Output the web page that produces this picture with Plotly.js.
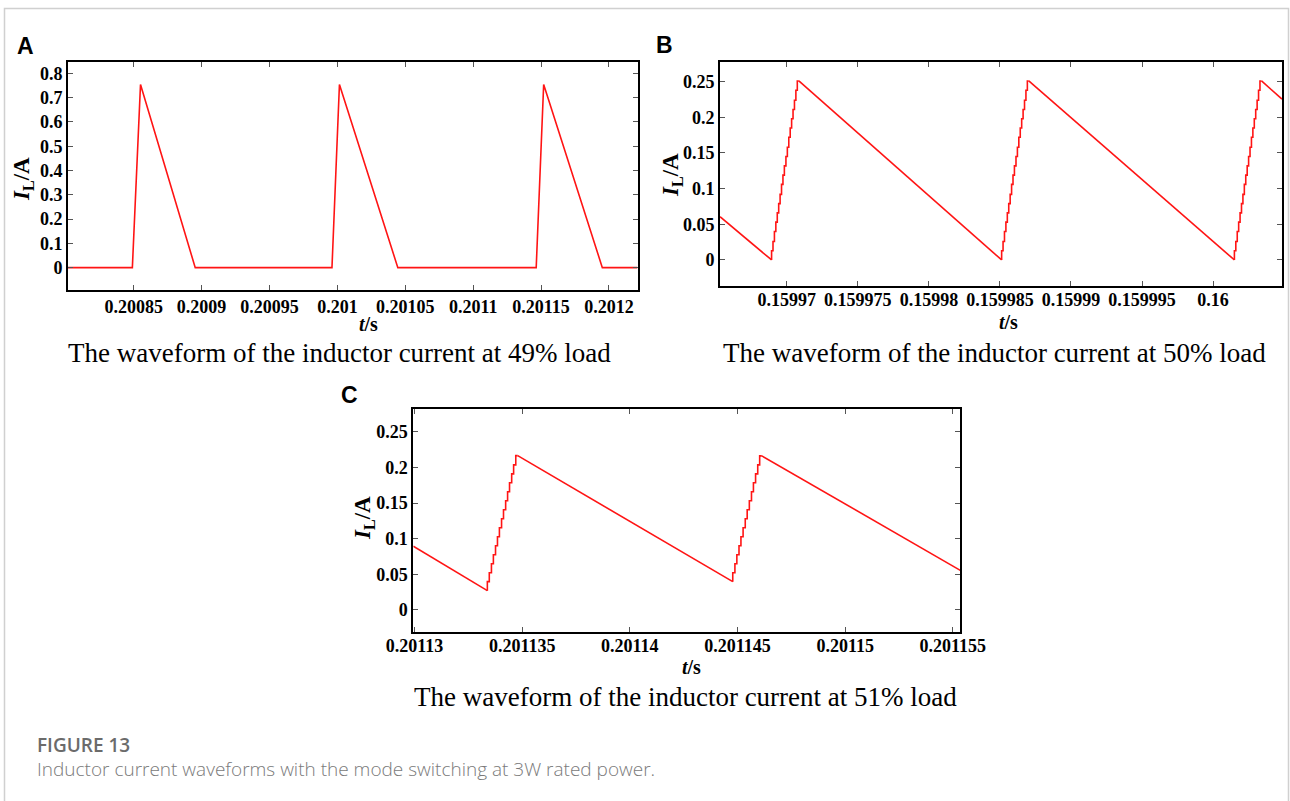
<!DOCTYPE html>
<html>
<head>
<meta charset="utf-8">
<script src="https://cdn.plot.ly/plotly-3.0.1.min.js"></script>
<style>
  html, body { margin: 0; padding: 0; background: #ffffff; }
  #chart { width: 1290px; height: 801px; }
</style>
</head>
<body>
<div id="chart"></div>
<script>
// ---------- Panel A: 49% load (DCM triangular pulses) ----------
const aTime = [0.2008016, 0.200849, 0.200855, 0.2008953, 0.200996, 0.2010015, 0.2010445, 0.2011464, 0.2011519, 0.2011951, 0.201221];
const aCurrent = [0, 0, 0.754, 0, 0, 0.754, 0, 0, 0.754, 0, 0];
const aXTicks = [0.20085, 0.2009, 0.20095, 0.201, 0.20105, 0.2011, 0.20115, 0.2012];
const aXTickText = ["0.20085", "0.2009", "0.20095", "0.201", "0.20105", "0.2011", "0.20115", "0.2012"];
const aYTicks = [0, 0.1, 0.2, 0.3, 0.4, 0.5, 0.6, 0.7, 0.8];
const aYTickText = ["0", "0.1", "0.2", "0.3", "0.4", "0.5", "0.6", "0.7", "0.8"];

// ---------- Panel B: 50% load (BCM sawtooth with stepped rise) ----------
const bFallTime = [0.1599653, 0.15996893, null, 0.15997085, 0.15998512, null, 0.15998703, 0.1600015, null, 0.16000341, 0.16000485];
const bFallCurrent = [0.0607, 0, null, 0.251, 0, null, 0.251, 0, null, 0.251, 0.2256];
const bRise1Time = [0.15996893, 0.15996903, 0.15996913, 0.15996923, 0.15996933, 0.15996943, 0.15996953, 0.15996963, 0.15996973, 0.15996983, 0.15996994, 0.15997004, 0.15997014, 0.15997024, 0.15997034, 0.15997044, 0.15997054, 0.15997064, 0.15997074, 0.15997085];
const bRise2Time = [0.15998512, 0.15998522, 0.15998532, 0.15998542, 0.15998552, 0.15998562, 0.15998572, 0.15998582, 0.15998592, 0.15998602, 0.15998613, 0.15998623, 0.15998633, 0.15998643, 0.15998653, 0.15998663, 0.15998673, 0.15998683, 0.15998693, 0.15998703];
const bRise3Time = [0.1600015, 0.1600016, 0.1600017, 0.1600018, 0.1600019, 0.160002, 0.1600021, 0.1600022, 0.1600023, 0.1600024, 0.1600025, 0.1600026, 0.1600027, 0.1600028, 0.1600029, 0.160003, 0.1600031, 0.1600032, 0.1600033, 0.16000341];
const bRiseCurrent = [0, 0.013, 0.026, 0.04, 0.053, 0.066, 0.079, 0.092, 0.106, 0.119, 0.132, 0.145, 0.158, 0.172, 0.185, 0.198, 0.211, 0.224, 0.238, 0.251];
const bXTicks = [0.15997, 0.159975, 0.15998, 0.159985, 0.15999, 0.159995, 0.16];
const bXTickText = ["0.15997", "0.159975", "0.15998", "0.159985", "0.15999", "0.159995", "0.16"];
const bYTicks = [0, 0.05, 0.1, 0.15, 0.2, 0.25];
const bYTickText = ["0", "0.05", "0.1", "0.15", "0.2", "0.25"];

// ---------- Panel C: 51% load (CCM sawtooth with stepped rise) ----------
const cFallTime = [0.20112994, 0.20113338, null, 0.20113479, 0.20114478, null, 0.20114613, 0.20115535];
const cFallCurrent = [0.0893, 0.0271, null, 0.2164, 0.0397, null, 0.2161, 0.0556];
const cRise1Time = [0.20113338, 0.20113347, 0.20113357, 0.20113366, 0.20113376, 0.20113385, 0.20113394, 0.20113404, 0.20113413, 0.20113423, 0.20113432, 0.20113441, 0.20113451, 0.2011346, 0.2011347, 0.20113479];
const cRise1Current = [0.0271, 0.0397, 0.0523, 0.0649, 0.0775, 0.0901, 0.1027, 0.1153, 0.1279, 0.1405, 0.1531, 0.1657, 0.1783, 0.1909, 0.2035, 0.2164];
const cRise2Time = [0.20114478, 0.20114488, 0.20114497, 0.20114507, 0.20114516, 0.20114526, 0.20114536, 0.20114545, 0.20114555, 0.20114565, 0.20114574, 0.20114584, 0.20114594, 0.20114603, 0.20114613];
const cRise2Current = [0.0397, 0.0523, 0.0649, 0.0775, 0.0901, 0.1027, 0.1153, 0.1279, 0.1405, 0.1531, 0.1657, 0.1783, 0.1909, 0.2035, 0.2161];
const cXTicks = [0.20113, 0.201135, 0.20114, 0.201145, 0.20115, 0.201155];
const cXTickText = ["0.20113", "0.201135", "0.20114", "0.201145", "0.20115", "0.201155"];
const cYTicks = [0, 0.05, 0.1, 0.15, 0.2, 0.25];
const cYTickText = ["0", "0.05", "0.1", "0.15", "0.2", "0.25"];

// ---------- Texts ----------
const panelLetters = ["A", "B", "C"];
const panelCaptions = [
  "The waveform of the inductor current at 49% load",
  "The waveform of the inductor current at 50% load",
  "The waveform of the inductor current at 51% load"
];
const figureLabel = "FIGURE 13";
const figureDescription = "Inductor current waveforms with the mode switching at 3W rated power.";
const yTitle = "<b><i>I</i><sub>L</sub>/A</b>";
const xTitle = "<b><i>t</i>/s</b>";

// ---------- Styling ----------
const W = 1290, H = 801;
const RED = "#ff1414";
const px = v => v / W;
const py = v => 1 - v / H;
const lineStyle = { color: RED, width: 1.6 };
const serif = "'Liberation Serif', 'Times New Roman', serif";
const sans = "'Liberation Sans', Arial, sans-serif";
const capFont = "'Open Sans', 'Noto Sans', sans-serif";

function mkTrace(x, y, xa, ya, shape) {
  return { x: x, y: y, type: "scatter", mode: "lines", xaxis: xa, yaxis: ya,
           line: Object.assign({ shape: shape }, lineStyle),
           connectgaps: false, hoverinfo: "skip", showlegend: false };
}

const traces = [
  mkTrace(aTime, aCurrent, "x", "y", "linear"),
  mkTrace(bFallTime, bFallCurrent, "x2", "y2", "linear"),
  mkTrace(bRise1Time, bRiseCurrent, "x2", "y2", "vh"),
  mkTrace(bRise2Time, bRiseCurrent, "x2", "y2", "vh"),
  mkTrace(bRise3Time, bRiseCurrent, "x2", "y2", "vh"),
  mkTrace(cFallTime, cFallCurrent, "x3", "y3", "linear"),
  mkTrace(cRise1Time, cRise1Current, "x3", "y3", "vh"),
  mkTrace(cRise2Time, cRise2Current, "x3", "y3", "vh")
];

const tickFont = { family: serif, size: 18, color: "#000", weight: "bold" };
const yTitleFont = { family: serif, size: 23, color: "#000" };
const xTitleFont = { family: serif, size: 20, color: "#000" };

function xAxis(domain, range, vals, text, anchor, standoff) {
  return {
    domain: domain, range: range, anchor: anchor,
    tickmode: "array", tickvals: vals, ticktext: text,
    ticks: "inside", ticklen: 5, tickwidth: 1, tickcolor: "#555",
    showline: true, linecolor: "#000", linewidth: 2, mirror: "ticks",
    showgrid: false, zeroline: false, tickfont: tickFont, ticklabelstandoff: standoff
  };
}
function yAxis(domain, range, vals, text, anchor) {
  return {
    domain: domain, range: range, anchor: anchor,
    tickmode: "array", tickvals: vals, ticktext: text,
    ticks: "inside", ticklen: 5, tickwidth: 1, tickcolor: "#555",
    showline: true, linecolor: "#000", linewidth: 2, mirror: "ticks",
    showgrid: false, zeroline: false, tickfont: tickFont, ticklabelstandoff: 0
  };
}

const annotations = [
  // panel letters
  { text: "<b>" + panelLetters[0] + "</b>", x: px(15), y: py(61), xanchor: "left", yanchor: "bottom",
    font: { family: sans, size: 23, color: "#000" } },
  { text: "<b>" + panelLetters[1] + "</b>", x: px(654), y: py(60), xanchor: "left", yanchor: "bottom",
    font: { family: sans, size: 23, color: "#000" } },
  { text: "<b>" + panelLetters[2] + "</b>", x: px(339), y: py(410), xanchor: "left", yanchor: "bottom",
    font: { family: sans, size: 23, color: "#000" } },
  // y axis titles
  { text: yTitle, x: px(23), y: py(179), textangle: -90, xanchor: "center", yanchor: "middle", font: yTitleFont },
  { text: yTitle, x: px(672), y: py(175), textangle: -90, xanchor: "center", yanchor: "middle", font: yTitleFont },
  { text: yTitle, x: px(364), y: py(518), textangle: -90, xanchor: "center", yanchor: "middle", font: yTitleFont },
  // x axis titles
  { text: xTitle, x: px(368), y: py(324), xanchor: "center", yanchor: "middle", font: xTitleFont },
  { text: xTitle, x: px(1008), y: py(322), xanchor: "center", yanchor: "middle", font: xTitleFont },
  { text: xTitle, x: px(691), y: py(667), xanchor: "center", yanchor: "middle", font: xTitleFont },
  // captions
  { text: panelCaptions[0], x: px(339), y: py(353), xanchor: "center", yanchor: "middle",
    font: { family: serif, size: 27, color: "#000" } },
  { text: panelCaptions[1], x: px(994.5), y: py(353), xanchor: "center", yanchor: "middle",
    font: { family: serif, size: 27, color: "#000" } },
  { text: panelCaptions[2], x: px(685), y: py(697), xanchor: "center", yanchor: "middle",
    font: { family: serif, size: 27, color: "#000" } },
  // figure caption
  { text: figureLabel, x: px(35), y: py(744.5), xanchor: "left", yanchor: "middle",
    font: { family: capFont, size: 19, color: "#6b6b6b", weight: 600 } },
  { text: figureDescription, x: px(35), y: py(768.5), xanchor: "left", yanchor: "middle",
    font: { family: capFont, size: 19, color: "#7a7a7a", weight: 300 } }
].map(a => Object.assign({ xref: "paper", yref: "paper", showarrow: false }, a));

const layout = {
  width: W, height: H,
  margin: { l: 0, r: 0, t: 0, b: 0 },
  paper_bgcolor: "#ffffff", plot_bgcolor: "#ffffff",
  showlegend: false,
  xaxis:  xAxis([px(68), px(637.5)], [0.2008016, 0.201221], aXTicks, aXTickText, "y", -1),
  yaxis:  yAxis([py(290), py(61.7)], [-0.092, 0.848], aYTicks, aYTickText, "x"),
  xaxis2: xAxis([px(720), px(1282)], [0.1599653, 0.16000485], bXTicks, bXTickText, "y2", -4),
  yaxis2: yAxis([py(286), py(61.7)], [-0.0365, 0.278], bYTicks, bYTickText, "x2"),
  xaxis3: xAxis([px(413.3), px(960.3)], [0.20112994, 0.20115535], cXTicks, cXTickText, "y3", -4),
  yaxis3: yAxis([py(632.3), py(409)], [-0.0313, 0.2818], cYTicks, cYTickText, "x3"),
  shapes: [
    { type: "rect", xref: "paper", yref: "paper", x0: px(4.5), x1: px(1288.5), y0: -0.05, y1: py(8.5),
      line: { color: "#d0d0d0", width: 1.5 }, fillcolor: "rgba(0,0,0,0)", layer: "below" }
  ],
  annotations: annotations
};

Plotly.newPlot("chart", traces, layout, { staticPlot: true, displayModeBar: false });
</script>
</body>
</html>
